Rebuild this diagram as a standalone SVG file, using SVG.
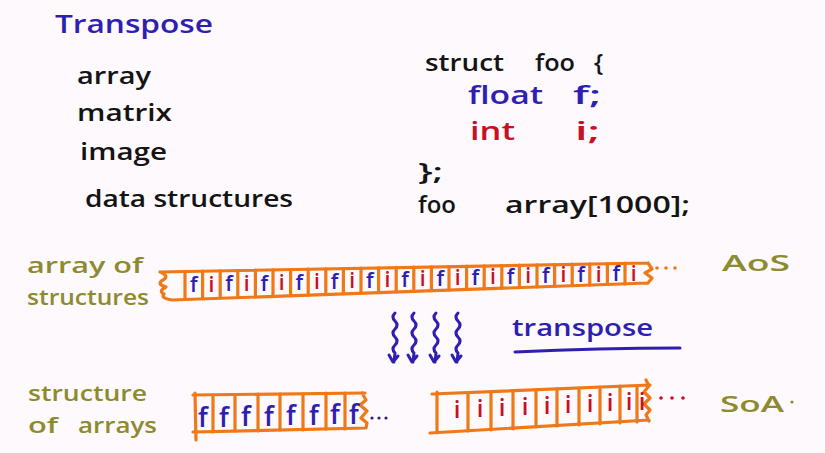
<svg xmlns="http://www.w3.org/2000/svg" width="825" height="453" viewBox="0 0 825 453">
<style>
text{font-family:"Open Sans","Noto Sans","Liberation Sans",sans-serif;font-weight:600}
.blk{fill:#141414;font-size:24px}
.blu{fill:#2e1fb0}
.red{fill:#c81022}
.olv{fill:#8e8a2e;font-size:22px}
.cell{font-size:21px;font-weight:700;text-anchor:middle}
.bar{fill:none;stroke:#f07816;stroke-width:3.2;stroke-linejoin:round;stroke-linecap:round}
.wav{fill:none;stroke:#2e1fb0;stroke-width:3;stroke-linecap:round;stroke-linejoin:round}
</style>
<rect width="825" height="453" fill="#fdf9fc"/>

<g id="title"><text x="55" y="33" class="blu" font-size="26" textLength="158" lengthAdjust="spacingAndGlyphs">Transpose</text></g>

<g id="list">
<text x="77" y="84" class="blk" textLength="74" lengthAdjust="spacingAndGlyphs">array</text>
<text x="77" y="121" class="blk" textLength="95" lengthAdjust="spacingAndGlyphs">matrix</text>
<text x="80" y="160" class="blk" textLength="87" lengthAdjust="spacingAndGlyphs">image</text>
<text x="85" y="207" class="blk" textLength="208" lengthAdjust="spacingAndGlyphs">data structures</text>
</g>

<g id="code">
<text x="425" y="71" class="blk" font-size="26" textLength="79" lengthAdjust="spacingAndGlyphs">struct</text>
<text x="535" y="71" class="blk" font-size="26" textLength="40" lengthAdjust="spacingAndGlyphs">foo</text>
<text x="594" y="71" class="blk" font-size="26">{</text>
<text x="468" y="104" class="blu" font-size="26" textLength="75" lengthAdjust="spacingAndGlyphs">float</text>
<text x="573" y="104" class="blu" font-size="26" textLength="28" lengthAdjust="spacingAndGlyphs">f;</text>
<text x="470" y="140" class="red" font-size="26" textLength="45" lengthAdjust="spacingAndGlyphs">int</text>
<text x="575" y="140" class="red" font-size="26" textLength="25" lengthAdjust="spacingAndGlyphs">i;</text>
<text x="418" y="180" class="blk" font-size="26" textLength="25" lengthAdjust="spacingAndGlyphs">};</text>
<text x="418" y="213" class="blk" font-size="26" textLength="38" lengthAdjust="spacingAndGlyphs">foo</text>
<text x="505" y="213" class="blk" font-size="26" textLength="185" lengthAdjust="spacingAndGlyphs">array[1000];</text>
</g>

<g id="aos-label">
<text x="27" y="273" class="olv" textLength="116" lengthAdjust="spacingAndGlyphs">array of</text>
<text x="27" y="305" class="olv" textLength="122" lengthAdjust="spacingAndGlyphs">structures</text>
<text x="722" y="271" class="olv" font-size="30" textLength="68" lengthAdjust="spacingAndGlyphs">AoS</text>
</g>

<g id="aos-bar">
<path class="bar" d="M160,272 L648,263 M172,300 L648,283 M160,272 Q170,276 163,280 Q156,284 166,287 Q158,291 164,294 Q160,298 172,300 M648,263 L652,269 L645,273 L652,278 L648,283"/>
<path class="bar" stroke-width="2.4" d="M185,271.5V299.2 M202.6,271.2V298.6 M220.2,270.9V298 M237.8,270.5V297.4 M255.4,270.2V296.8 M273,269.9V296.2 M290.6,269.5V295.5 M308.2,269.2V294.9 M325.8,268.9V294.3 M343.4,268.5V293.7 M361,268.2V293.1 M378.6,267.9V292.5 M396.2,267.6V291.9 M413.8,267.2V291.2 M431.4,266.9V290.6 M449,266.6V290 M466.6,266.2V289.4 M484.2,265.9V288.8 M501.8,265.6V288.2 M519.4,265.2V287.6 M537,264.9V286.9 M554.6,264.6V286.3 M572.2,264.2V285.7 M589.8,263.9V285.1 M607.4,263.6V284.5 M625,263.2V283.9"/>
<g class="cell">
<text x="193.8" y="292.4" class="blu">f</text><text x="211.4" y="291.9" class="red">i</text>
<text x="229" y="291.4" class="blu">f</text><text x="246.6" y="291" class="red">i</text>
<text x="264.2" y="290.5" class="blu">f</text><text x="281.8" y="290" class="red">i</text>
<text x="299.4" y="289.5" class="blu">f</text><text x="317" y="289.1" class="red">i</text>
<text x="334.6" y="288.6" class="blu">f</text><text x="352.2" y="288.1" class="red">i</text>
<text x="369.8" y="287.6" class="blu">f</text><text x="387.4" y="287.2" class="red">i</text>
<text x="405" y="286.7" class="blu">f</text><text x="422.6" y="286.2" class="red">i</text>
<text x="440.2" y="285.7" class="blu">f</text><text x="457.8" y="285.3" class="red">i</text>
<text x="475.4" y="284.8" class="blu">f</text><text x="493" y="284.3" class="red">i</text>
<text x="510.6" y="283.8" class="blu">f</text><text x="528.2" y="283.4" class="red">i</text>
<text x="545.8" y="282.9" class="blu">f</text><text x="563.4" y="282.4" class="red">i</text>
<text x="581" y="281.9" class="blu">f</text><text x="598.6" y="281.5" class="red">i</text>
<text x="616.2" y="281" class="blu">f</text><text x="633.8" y="280.5" class="red">i</text>
</g>
<g fill="#f07816"><circle cx="657" cy="268" r="1.8"/><circle cx="666" cy="268" r="1.8"/><circle cx="675" cy="268" r="1.8"/></g>
</g>

<g id="transpose-arrows">
<path class="wav" d="M395,313 q-4,4 0,8 q4,4 0,8 q-4,4 0,8 q4,4 0,8 q-4,4 0,8 l-1,9 M389,355 l4,7 l5,-6"/>
<path class="wav" d="M414,313 q-4,4 0,8 q4,4 0,8 q-4,4 0,8 q4,4 0,8 q-4,4 0,8 l-1,9 M408,355 l4,7 l5,-6"/>
<path class="wav" d="M436,313 q-4,4 0,8 q4,4 0,8 q-4,4 0,8 q4,4 0,8 q-4,4 0,8 l-1,9 M430,355 l4,7 l5,-6"/>
<path class="wav" d="M458,313 q-4,4 0,8 q4,4 0,8 q-4,4 0,8 q4,4 0,8 q-4,4 0,8 l-1,9 M452,355 l4,7 l5,-6"/>
<text x="512" y="336" class="blu" font-size="24" textLength="141" lengthAdjust="spacingAndGlyphs">transpose</text>
<path class="wav" d="M515,352 Q600,348 680,348"/>
</g>

<g id="soa-label">
<text x="28" y="401" class="olv" textLength="119" lengthAdjust="spacingAndGlyphs">structure</text>
<text x="28" y="433" class="olv" textLength="30" lengthAdjust="spacingAndGlyphs">of</text>
<text x="78" y="433" class="olv" textLength="79" lengthAdjust="spacingAndGlyphs">arrays</text>
<text x="720" y="412" class="olv" font-size="30" textLength="64" lengthAdjust="spacingAndGlyphs">SoA</text>
<circle cx="792" cy="402" r="1.6" fill="#8e8a2e"/>
</g>

<g id="soa-float">
<path class="bar" d="M193,395 L365,393 M195,393 L196,440 M193,432 L366,428 M362,393 L366,400 L360,405 L367,411 L361,418 L367,423 L366,428"/>
<path class="bar" stroke-width="2.4" d="M213,395V432 M235,395V431 M258,394V431 M280,394V430 M303,394V430 M326,393V429 M345,393V429"/>
<g class="cell blu" style="font-size:27px">
<text x="203" y="427">f</text><text x="224" y="427">f</text><text x="246" y="426">f</text><text x="269" y="426">f</text><text x="291" y="425">f</text><text x="314" y="425">f</text><text x="335" y="424">f</text><text x="354" y="424">f</text>
</g>
<g fill="#2a2380"><circle cx="372" cy="418" r="1.6"/><circle cx="379" cy="418" r="1.6"/><circle cx="386" cy="418" r="1.6"/></g>
</g>

<g id="soa-int">
<path class="bar" d="M432,394 L650,385 M437,392 L437,433 M430,433 L649,420 M646,380 L649,386 L644,392 L650,398 L644,404 L650,410 L646,415 L649,421"/>
<path class="bar" stroke-width="2.4" d="M468,393V431 M491,392V430 M513,391V429 M536,390V427 M557,389V426 M579,388V425 M600,387V424 M620,386V423 M637,386V422"/>
<g class="cell red" style="font-size:24px">
<text x="457" y="418">i</text><text x="480" y="417">i</text><text x="502" y="416">i</text><text x="525" y="415">i</text><text x="547" y="414">i</text><text x="568" y="413">i</text><text x="590" y="412">i</text><text x="610" y="411">i</text><text x="629" y="410">i</text><text x="642" y="410">i</text>
</g>
<g fill="#c81022"><circle cx="661" cy="398" r="1.8"/><circle cx="672" cy="398" r="1.8"/><circle cx="683" cy="398" r="1.8"/></g>
</g>
</svg>
